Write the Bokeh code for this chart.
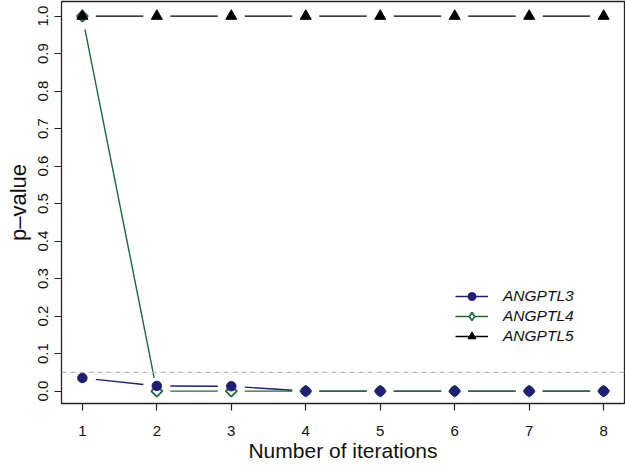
import math
from bokeh.plotting import figure
from bokeh.models import (Range1d, Span, Legend, LegendItem, FixedTicker, ColumnDataSource,
                          CustomJSTickFormatter)
from bokeh.embed import file_html
from bokeh.resources import INLINE

iterations = [1, 2, 3, 4, 5, 6, 7, 8]
angptl3 = [0.035, 0.014, 0.013, 0.0, 0.0, 0.0, 0.0, 0.0]
angptl4 = [1.0, 0.0, 0.0, 0.0, 0.0, 0.0, 0.0, 0.0]
angptl5 = [1.0, 1.0, 1.0, 1.0, 1.0, 1.0, 1.0, 1.0]
threshold = 0.05
y_ticks = [0.0, 0.1, 0.2, 0.3, 0.4, 0.5, 0.6, 0.7, 0.8, 0.9, 1.0]
series_names = ["ANGPTL3", "ANGPTL4", "ANGPTL5"]

NAVY = "#1f1f78"
GREEN = "#1d6b34"
BLACK = "#000000"
FONT = "Liberation Sans"

W, H = 625, 465
BL, BR, BT, BB = 61, 1, 1, 62
FW, FH = W - BL - BR, H - BT - BB
x0, x1 = 0.72, 8.28
y0, y1 = -0.033, 1.039

p = figure(width=W, height=H, output_backend="svg", toolbar_location=None,
           x_range=Range1d(x0, x1), y_range=Range1d(y0, y1),
           min_border_left=BL, min_border_right=BR, min_border_top=BT, min_border_bottom=BB)
p.background_fill_color = "white"
p.border_fill_color = "white"
p.outline_line_color = "#222222"
p.outline_line_width = 1.3
p.xgrid.visible = False
p.ygrid.visible = False

# R type="b" style: line segments with gaps around points
sx = FW / (x1 - x0)
sy = FH / (y1 - y0)
GAP = 13.5

def gapped(xs, ys):
    a0, b0, a1, b1 = [], [], [], []
    for i in range(len(xs) - 1):
        dx = (xs[i + 1] - xs[i]) * sx
        dy = (ys[i + 1] - ys[i]) * sy
        L = (dx * dx + dy * dy) ** 0.5
        if L <= 2 * GAP:
            continue
        ux, uy = dx / L, dy / L
        a0.append(xs[i] + GAP * ux / sx)
        b0.append(ys[i] + GAP * uy / sy)
        a1.append(xs[i + 1] - GAP * ux / sx)
        b1.append(ys[i + 1] - GAP * uy / sy)
    return dict(x0=a0, y0=b0, x1=a1, y1=b1)

p.add_layout(Span(location=threshold, dimension="width", line_color="#b5b5bd",
                  line_dash="5 4", line_width=1.2))

s3 = p.segment(source=ColumnDataSource(gapped(iterations, angptl3)), x0="x0", y0="y0", x1="x1", y1="y1",
               line_color=NAVY, line_width=1.4)
s4 = p.segment(source=ColumnDataSource(gapped(iterations, angptl4)), x0="x0", y0="y0", x1="x1", y1="y1",
               line_color=GREEN, line_width=1.4)
s5 = p.segment(source=ColumnDataSource(gapped(iterations, angptl5)), x0="x0", y0="y0", x1="x1", y1="y1",
               line_color=BLACK, line_width=1.4)

m4 = p.scatter(iterations, angptl4, marker="square", angle=math.pi / 4, size=7.8, fill_color="white",
               line_color=GREEN, line_width=1.8)
m3 = p.scatter(iterations, angptl3, marker="circle", size=9.5, fill_color=NAVY,
               line_color=NAVY, line_width=1)
m5 = p.scatter(iterations, angptl5, marker="triangle", size=11, fill_color=BLACK,
               line_color=BLACK, line_width=1)
# legend-only diamond key (legend markers are never rotated); NaN position draws nothing in the plot
k4 = p.scatter(x=[float("nan")], y=[float("nan")], marker="diamond", size=10, fill_color="white",
               line_color=GREEN, line_width=1.6)

legend = Legend(items=[
    LegendItem(label=series_names[0], renderers=[s3, m3]),
    LegendItem(label=series_names[1], renderers=[s4, k4]),
    LegendItem(label=series_names[2], renderers=[s5, m5]),
], location=(394, 57))
legend.border_line_color = None
legend.background_fill_alpha = 0
legend.padding = 0
legend.margin = 0
legend.spacing = 0
legend.glyph_width = 33
legend.glyph_height = 20
legend.label_height = 20
legend.label_standoff = 15
legend.label_text_font = FONT
legend.label_text_font_style = "italic"
legend.label_text_font_size = "15.5px"
legend.label_text_color = "#111111"
p.add_layout(legend)

for ax in (p.xaxis[0], p.yaxis[0]):
    ax.axis_line_color = None
    ax.major_tick_line_color = "#222222"
    ax.major_tick_line_width = 1.2
    ax.major_tick_in = 0
    ax.major_tick_out = 7
    ax.minor_tick_line_color = None
    ax.major_label_text_font = FONT
    ax.major_label_text_font_size = "15px"
    ax.major_label_text_color = "#111111"
    ax.axis_label_text_font = FONT
    ax.axis_label_text_font_style = "normal"
    ax.axis_label_text_color = "#111111"

p.xaxis.ticker = FixedTicker(ticks=iterations)
p.xaxis.major_label_standoff = 15
p.xaxis.axis_label = "Number of iterations"
p.xaxis.axis_label_text_font_size = "21px"
p.xaxis.axis_label_standoff = 0

p.yaxis.ticker = FixedTicker(ticks=y_ticks)
p.yaxis.formatter = CustomJSTickFormatter(code="return tick.toFixed(1);")
p.yaxis.major_label_orientation = "vertical"
p.yaxis.major_label_standoff = 7
p.yaxis.axis_label = "p\u2013value"
p.yaxis.axis_label_text_font_size = "22px"
p.yaxis.axis_label_standoff = 4

open("out.html", "w").write(file_html(p, INLINE))
